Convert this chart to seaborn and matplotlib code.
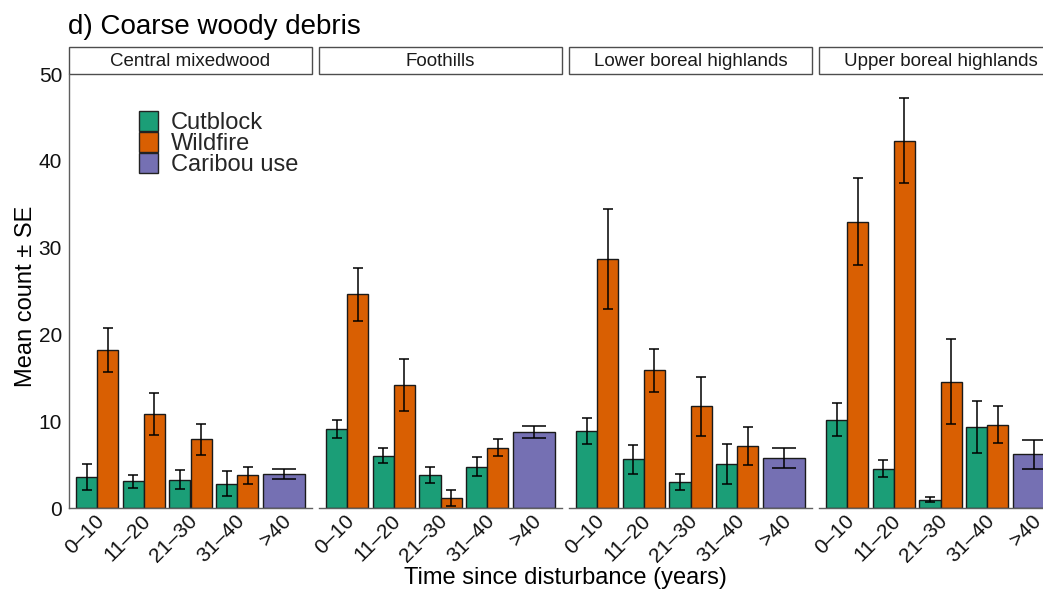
import numpy as np
import pandas as pd
import matplotlib
matplotlib.use("Agg")
import matplotlib.pyplot as plt
import matplotlib.transforms as mtransforms
from matplotlib.patches import Patch, Rectangle
import seaborn as sns

# ---------------- data ----------------
regions = ["Central mixedwood", "Foothills", "Lower boreal highlands", "Upper boreal highlands"]
age_classes = ["0–10", "11–20", "21–30", "31–40", ">40"]
disturbed_ages = ["0–10", "11–20", "21–30", "31–40"]
types = ["Cutblock", "Wildfire", "Caribou use"]

cutblock_mean = [[3.58, 3.08, 3.27, 2.81],
                 [9.08, 6.00, 3.81, 4.77],
                 [8.87, 5.60, 3.00, 5.10],
                 [10.18, 4.53, 0.96, 9.33]]
cutblock_se = [[1.47, 0.72, 1.13, 1.46],
               [1.01, 0.87, 0.96, 1.10],
               [1.54, 1.67, 0.89, 2.30],
               [1.87, 1.00, 0.27, 3.00]]
wildfire_mean = [[18.20, 10.85, 7.92, 3.77],
                 [24.60, 14.15, 1.15, 6.96],
                 [28.70, 15.86, 11.70, 7.14],
                 [32.98, 42.30, 14.55, 9.60]]
wildfire_se = [[2.55, 2.39, 1.77, 1.00],
               [3.03, 2.98, 0.95, 1.00],
               [5.78, 2.45, 3.40, 2.18],
               [5.04, 4.90, 4.90, 2.13]]
caribou_mean = [3.92, 8.73, 5.76, 6.18]
caribou_se = [0.56, 0.67, 1.10, 1.71]

colors = {"Cutblock": "#1B9E77", "Wildfire": "#D95F02", "Caribou use": "#7570B3"}

rows = []
for r, reg in enumerate(regions):
    for a, age in enumerate(disturbed_ages):
        rows.append((reg, age, "Cutblock", cutblock_mean[r][a], cutblock_se[r][a]))
        rows.append((reg, age, "Wildfire", wildfire_mean[r][a], wildfire_se[r][a]))
    rows.append((reg, ">40", "Caribou use", caribou_mean[r], caribou_se[r]))
df = pd.DataFrame(rows, columns=["region", "age", "type", "mean", "se"])

# ---------------- style ----------------
sns.set_style("white")
plt.rcParams["font.family"] = ["Liberation Sans", "DejaVu Sans"]
plt.rcParams["axes.linewidth"] = 1.0

W, H = 1043, 593
fig = plt.figure(figsize=(W / 100, H / 100), dpi=100)

axis_col = "#5f5f5f"
text_col = "#111111"
edge_col = "#1a1a1a"

left0, step, pw = 69, 250, 243
top_px, bot_px = 74, 508

for i, reg in enumerate(regions):
    ax = fig.add_axes([(left0 + step * i) / W, 1 - bot_px / H, pw / W, (bot_px - top_px) / H])
    d = df[(df.region == reg) & (df.type != "Caribou use")]
    sns.barplot(data=d, x="age", y="mean", hue="type", order=age_classes,
                hue_order=["Cutblock", "Wildfire"], palette=colors, width=0.9,
                dodge=True, errorbar=None, saturation=1, edgecolor=edge_col,
                linewidth=1.0, legend=False, ax=ax)
    c = df[(df.region == reg) & (df.type == "Caribou use")]
    sns.barplot(data=c, x="age", y="mean", order=age_classes, color=colors["Caribou use"],
                width=0.9, errorbar=None, saturation=1, edgecolor=edge_col,
                linewidth=1.0, ax=ax)

    # error bars at the bar centres drawn by seaborn
    sub = df[df.region == reg]
    for p in list(ax.patches):
        h = p.get_height()
        if not np.isfinite(h) or h <= 0:
            continue
        cx = p.get_x() + p.get_width() / 2
        idx = int(round(cx))
        off = cx - idx
        if off < -0.05:
            t = "Cutblock"
        elif off > 0.05:
            t = "Wildfire"
        else:
            t = "Caribou use"
        row = sub[(sub.age == age_classes[idx]) & (sub.type == t)]
        if row.empty:
            continue
        m, s = row["mean"].iloc[0], row["se"].iloc[0]
        cap = 8.3 if t == "Caribou use" else 3.9
        ax.errorbar(cx, m, yerr=s, fmt="none", ecolor="black", elinewidth=1.1,
                    capsize=cap, capthick=1.1, zorder=5)

    ax.set_xlim(-0.6, 4.6)
    ax.set_ylim(0, 50)
    ax.set_xlabel("")
    ax.set_ylabel("")
    for sp in ["top", "right"]:
        ax.spines[sp].set_visible(False)
    ax.spines["bottom"].set_color(axis_col)
    ax.spines["left"].set_color(axis_col)
    ax.tick_params(axis="x", length=3, width=1.0, color=axis_col, labelsize=15,
                   labelcolor=text_col, pad=4)
    if i == 0:
        ax.set_yticks([0, 10, 20, 30, 40, 50])
        ax.tick_params(axis="y", length=3, width=1.0, color=axis_col, labelsize=15,
                       labelcolor=text_col, pad=2)
    else:
        ax.spines["left"].set_visible(False)
        ax.tick_params(axis="y", left=False, labelleft=False)

    ax.set_xticks(range(len(age_classes)))
    ax.set_xticklabels(age_classes)
    shift = mtransforms.ScaledTranslation(4 / 100, 0, fig.dpi_scale_trans)
    for lbl in ax.get_xticklabels():
        lbl.set_rotation(45)
        lbl.set_ha("right")
        lbl.set_va("center")
        lbl.set_rotation_mode("anchor")
        lbl.set_transform(lbl.get_transform() + shift)

    # facet strip
    sh = 26.5 / (bot_px - top_px)
    ax.add_patch(Rectangle((0, 1.0), 1, sh, transform=ax.transAxes, clip_on=False,
                           facecolor="white", edgecolor="#4d4d4d", linewidth=1.0))
    ax.text(0.5, 1 + sh / 2 - 1.2 / (bot_px - top_px), reg, transform=ax.transAxes,
            ha="center", va="center", fontsize=13.5, color="#1a1a1a")

    if i == 0:
        handles = [Patch(facecolor=colors[t], edgecolor="#222222", linewidth=1.0) for t in types]
        ax.legend(handles, types, loc="upper left",
                  bbox_to_anchor=(138.6 / W, 1 - 111 / H), bbox_transform=fig.transFigure,
                  frameon=False, fontsize=17, borderpad=0, borderaxespad=0,
                  handlelength=0.83, handleheight=0.91, handletextpad=0.55,
                  labelspacing=-0.09)

fig.text(68 / W, 1 - 34.5 / H, "d) Coarse woody debris", fontsize=20, va="baseline",
         ha="left", color="black")
fig.text(32 / W, 1 - 296 / H, "Mean count ± SE", fontsize=17, rotation=90,
         rotation_mode="anchor", ha="center", va="baseline", color="black")
fig.text(565 / W, 1 - 578 / H, "Time since disturbance (years)", fontsize=17,
         ha="center", va="center", color="black")

fig.savefig("out.png", dpi=100)
